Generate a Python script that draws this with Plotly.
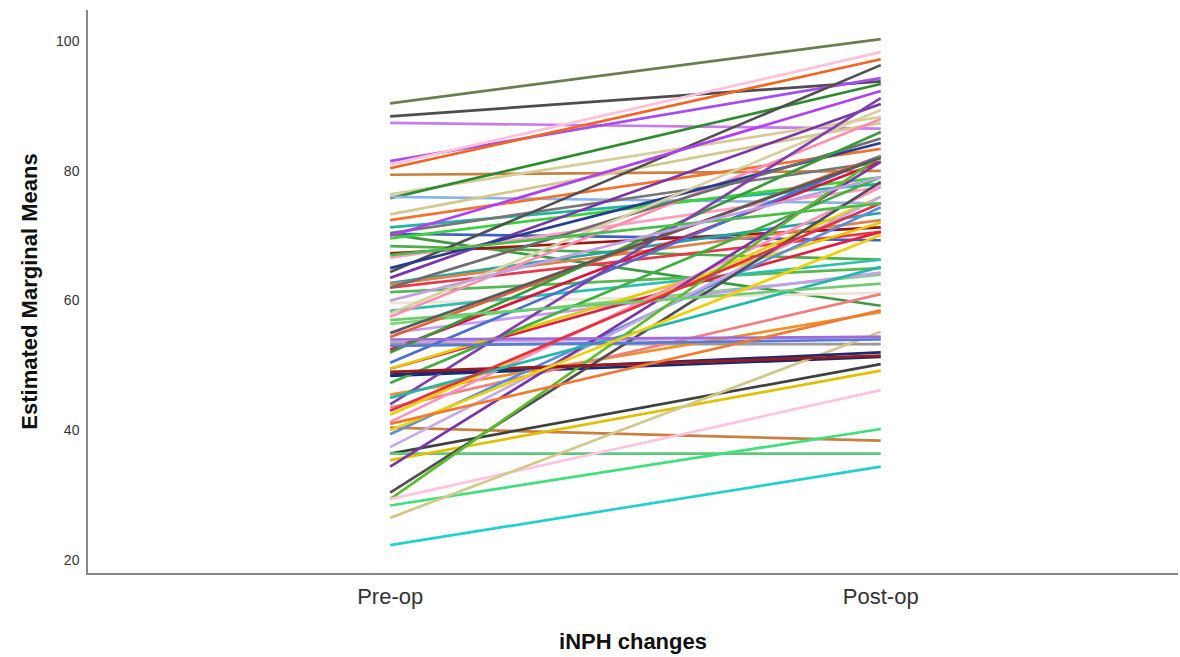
import plotly.graph_objects as go

categories = ["Pre-op", "Post-op"]

pre_values = [90.4, 88.4, 87.4, 81.5, 80.4, 79.4, 76.4, 75.8, 76.0, 73.3,
              72.4, 71.3, 70.4, 70.3, 70.2, 69.6, 68.4, 67.3, 66.6, 64.4,
              63.5, 62.7, 62.5, 62.0, 61.3, 59.6, 58.4, 57.5, 56.4, 55.0,
              53.6, 54.4, 52.4, 53.3, 50.4, 49.5, 49.5, 48.4, 47.3, 45.5,
              43.5, 42.4, 41.3, 40.4, 39.4, 37.4, 36.4, 36.4, 35.4, 34.4,
              30.4, 29.4, 29.4, 28.4, 26.5, 22.3, 81.0, 70.0, 65.0, 62.0,
              58.0, 52.0, 44.0, 48.6, 49.0, 45.0, 57.0, 53.0, 54.0, 40.0,
              55.0, 43.0, 41.0, 67.0, 60.0]

post_values = [100.3, 93.8, 86.5, 94.3, 97.2, 80.0, 88.3, 93.4, 75.0, 87.4,
               83.4, 78.0, 81.4, 69.3, 59.2, 79.0, 66.3, 71.3, 77.5, 96.3,
               90.3, 73.5, 72.4, 70.6, 65.0, 61.2, 66.3, 88.0, 64.0, 64.3,
               54.4, 82.3, 81.4, 53.3, 82.3, 70.6, 72.0, 51.3, 79.0, 58.2,
               61.0, 76.0, 77.5, 38.4, 74.4, 76.0, 50.2, 36.4, 49.2, 81.4,
               78.3, 82.3, 46.2, 40.2, 55.2, 34.4, 98.3, 92.3, 84.3, 85.0,
               89.4, 86.0, 91.2, 52.0, 51.5, 65.2, 62.6, 54.0, 54.4, 70.1,
               82.0, 75.0, 58.5, 75.0, 79.0]

line_colors = ["#6b7d4f", "#4d4d4d", "#c77cf0", "#a64df0", "#f26522", "#c8813f",
               "#d6cc98", "#2e8b2e", "#8fb4e3", "#d3c88e", "#f27230", "#1fb5a5",
               "#777777", "#3f5fc0", "#3f9a3f", "#3ed13e", "#4cae4c", "#a01414",
               "#ff9fbf", "#505050", "#7a35a8", "#20a8a0", "#e0804a", "#e8384a",
               "#55b855", "#ece4d4", "#2cc0b0", "#ff8fb0", "#7cd67c", "#c89cf0",
               "#c8a0e8", "#e0603a", "#dc143c", "#999999", "#4a6fd0", "#e02040",
               "#e8c800", "#1a2a70", "#40b040", "#f0902a", "#f08080", "#ecd000",
               "#ff90c0", "#c88040", "#5a8ee0", "#c8a8e8", "#404040", "#5cc87c",
               "#e0c000", "#7a35a8", "#505050", "#5cbc2c", "#ffc4e0", "#3ee07a",
               "#d2c88c", "#22d0d0", "#ffc0dc", "#b040f0", "#283c90", "#6e6e6e",
               "#d8d0a0", "#3a9a3a", "#8040b0", "#1c2c74", "#a01818", "#20b8a8",
               "#70cc70", "#5a7ad8", "#9c6cd8", "#f0d000", "#5a5a5a", "#e83040",
               "#f07a30", "#48c048", "#c0a0e0"]

fig = go.Figure()
for pre, post, col in zip(pre_values, post_values, line_colors):
    fig.add_trace(go.Scatter(
        x=categories, y=[pre, post], mode="lines",
        line=dict(color=col, width=2.7), showlegend=False, hoverinfo="skip"))

fig.update_layout(
    width=1180, height=657,
    margin=dict(l=88, r=2, t=10, b=84),
    paper_bgcolor="white", plot_bgcolor="white",
    font=dict(family="Liberation Sans, Arial, sans-serif", color="#222222"),
    xaxis=dict(
        type="category", range=[-0.616, 1.606],
        showgrid=False, zeroline=False,
        showline=True, linecolor="#888888", linewidth=1.5,
        ticks="", ticklabelstandoff=3, tickfont=dict(size=22, color="#333333"),
        title=dict(text="<b>iNPH changes</b>", font=dict(size=22, color="#111111"), standoff=25),
    ),
    yaxis=dict(
        range=[18, 104.8], tickvals=[20, 40, 60, 80, 100],
        showgrid=False, zeroline=False,
        showline=True, linecolor="#888888", linewidth=1.5,
        ticks="", ticklabelstandoff=4, tickfont=dict(size=14, color="#333333"),
        title=dict(text="<b>Estimated Marginal Means</b>", font=dict(size=22, color="#111111"), standoff=12),
    ),
)

fig.write_html("out.html")
